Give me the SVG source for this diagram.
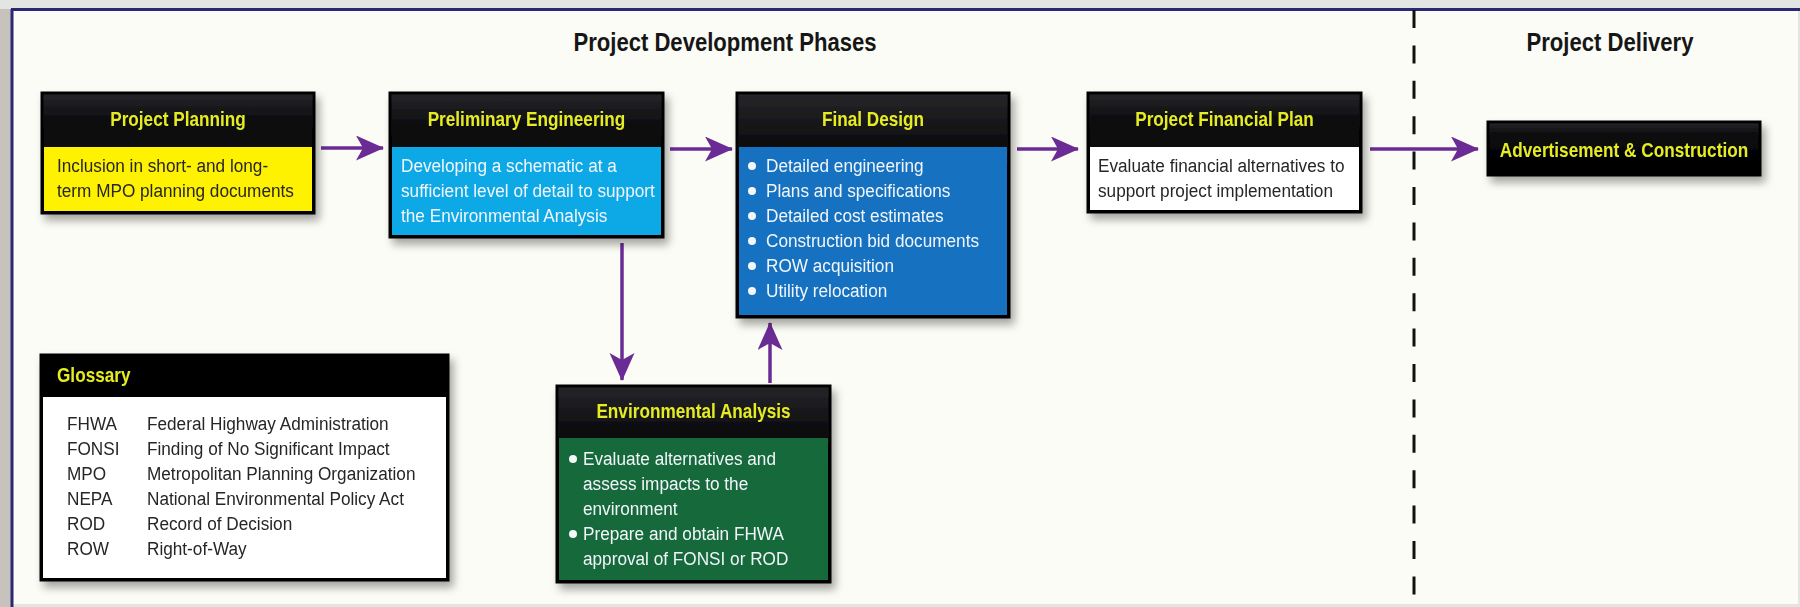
<svg xmlns="http://www.w3.org/2000/svg" width="1800" height="607" viewBox="0 0 1800 607">
<defs>
<style>
.hd{font-family:'Liberation Sans',Arial,sans-serif;font-weight:bold;font-size:20px;fill:#e6ec22;text-anchor:middle}
.ttl{font-family:'Liberation Sans',Arial,sans-serif;font-weight:bold;font-size:26px;fill:#161616;text-anchor:middle}
.b{font-family:'Liberation Sans',Arial,sans-serif;font-size:19px}
.dk{fill:#262626}
.wh{fill:#f2f6fa}
.frame{fill:url(#hg);stroke:#050505;stroke-width:3}
.con{stroke:#6a2c94;stroke-width:3.5;fill:none;marker-end:url(#ah)}
.dot{fill:#f4f6f8}
</style>
<linearGradient id="hg" x1="0" y1="0" x2="0" y2="1">
<stop offset="0" stop-color="#26262a"/>
<stop offset="0.25" stop-color="#0a0a0c"/>
<stop offset="1" stop-color="#000"/>
</linearGradient>
<filter id="sh" x="-10%" y="-10%" width="130%" height="140%">
<feDropShadow dx="4" dy="6" stdDeviation="4" flood-color="#000" flood-opacity="0.35"/>
</filter>
<marker id="ah" markerUnits="userSpaceOnUse" markerWidth="30" markerHeight="26" refX="27" refY="12.5" orient="auto">
<path d="M0,0 L28,12.5 L0,25 L7,12.5 Z" fill="#6a2c94"/>
</marker>
</defs>

<g id="background">
<rect x="0" y="0" width="1800" height="607" fill="#e3e5e3"/>
<rect x="0" y="9" width="11" height="598" fill="#c8c2bc"/>
<rect x="12" y="9" width="1786" height="595" fill="#fcfcf6"/>
<line x1="11" y1="9.5" x2="1800" y2="9.5" stroke="#2a2874" stroke-width="3"/>
<line x1="12" y1="9" x2="12" y2="607" stroke="#2a2874" stroke-width="3"/>
<line x1="1414" y1="10" x2="1414" y2="604" stroke="#111" stroke-width="3" stroke-dasharray="18 17.4"/>
</g>

<g id="titles">
<text class="ttl" transform="translate(725,51) scale(0.85,1)">Project Development Phases</text>
<text class="ttl" transform="translate(1610,51) scale(0.85,1)">Project Delivery</text>
</g>

<g id="connectors">
<line class="con" x1="321" y1="148" x2="383" y2="148"/>
<line class="con" x1="670" y1="149" x2="732" y2="149"/>
<line class="con" x1="1017" y1="149" x2="1078" y2="149"/>
<line class="con" x1="1370" y1="149" x2="1478" y2="149"/>
<line class="con" x1="622" y1="243" x2="622" y2="380"/>
<line class="con" x1="770" y1="383" x2="770" y2="323"/>
</g>

<g id="project-planning" filter="url(#sh)">
<rect class="frame" x="42" y="93" width="272" height="120"/>
<rect x="44" y="147" width="268" height="64" fill="#fff200"/>
<text class="hd" transform="translate(178,126) scale(0.86,1)">Project Planning</text>
<g transform="translate(57,0) scale(0.905,1)">
<text class="b dk" x="0" y="172">Inclusion in short- and long-</text>
<text class="b dk" x="0" y="197">term MPO planning documents</text>
</g>
</g>

<g id="preliminary-engineering" filter="url(#sh)">
<rect class="frame" x="390" y="93" width="273" height="144"/>
<rect x="392" y="147" width="269" height="88" fill="#0fa9e6"/>
<text class="hd" transform="translate(526.5,126) scale(0.86,1)">Preliminary Engineering</text>
<g transform="translate(401,0) scale(0.905,1)">
<text class="b wh" x="0" y="172">Developing a schematic at a</text>
<text class="b wh" x="0" y="197">sufficient level of detail to support</text>
<text class="b wh" x="0" y="222">the Environmental Analysis</text>
</g>
</g>

<g id="final-design" filter="url(#sh)">
<rect class="frame" x="737" y="93" width="272" height="224"/>
<rect x="739" y="147" width="268" height="168" fill="#1572c0"/>
<text class="hd" transform="translate(873,126) scale(0.86,1)">Final Design</text>
<circle class="dot" cx="752" cy="166" r="4"/>
<circle class="dot" cx="752" cy="191" r="4"/>
<circle class="dot" cx="752" cy="216" r="4"/>
<circle class="dot" cx="752" cy="241" r="4"/>
<circle class="dot" cx="752" cy="266" r="4"/>
<circle class="dot" cx="752" cy="291" r="4"/>
<g transform="translate(766,0) scale(0.905,1)">
<text class="b wh" x="0" y="172">Detailed engineering</text>
<text class="b wh" x="0" y="197">Plans and specifications</text>
<text class="b wh" x="0" y="222">Detailed cost estimates</text>
<text class="b wh" x="0" y="247">Construction bid documents</text>
<text class="b wh" x="0" y="272">ROW acquisition</text>
<text class="b wh" x="0" y="297">Utility relocation</text>
</g>
</g>

<g id="project-financial-plan" filter="url(#sh)">
<rect class="frame" x="1088" y="93" width="273" height="119"/>
<rect x="1090" y="147" width="269" height="63" fill="#ffffff"/>
<text class="hd" transform="translate(1224.5,126) scale(0.86,1)">Project Financial Plan</text>
<g transform="translate(1098,0) scale(0.905,1)">
<text class="b dk" x="0" y="172">Evaluate financial alternatives to</text>
<text class="b dk" x="0" y="197">support project implementation</text>
</g>
</g>

<g id="advertisement-construction" filter="url(#sh)">
<rect class="frame" x="1488" y="122" width="272" height="53"/>
<text class="hd" transform="translate(1624,157) scale(0.86,1)">Advertisement &amp; Construction</text>
</g>

<g id="environmental-analysis" filter="url(#sh)">
<rect class="frame" x="557" y="386" width="273" height="196"/>
<rect x="559" y="438" width="269" height="142" fill="#15693a"/>
<text class="hd" transform="translate(693.5,418) scale(0.86,1)">Environmental Analysis</text>
<circle class="dot" cx="573" cy="459" r="4"/>
<circle class="dot" cx="573" cy="534" r="4"/>
<g transform="translate(583,0) scale(0.905,1)">
<text class="b wh" x="0" y="465">Evaluate alternatives and</text>
<text class="b wh" x="0" y="490">assess impacts to the</text>
<text class="b wh" x="0" y="515">environment</text>
<text class="b wh" x="0" y="540">Prepare and obtain FHWA</text>
<text class="b wh" x="0" y="565">approval of FONSI or ROD</text>
</g>
</g>

<g id="glossary" filter="url(#sh)">
<rect x="41" y="355" width="407" height="225" fill="#000" stroke="#050505" stroke-width="3"/>
<rect x="43" y="397" width="403" height="181" fill="#ffffff"/>
<text class="hd" style="text-anchor:start" transform="translate(57,382) scale(0.86,1)">Glossary</text>
<g transform="translate(67,0) scale(0.905,1)">
<text class="b dk" x="0" y="430">FHWA</text>
<text class="b dk" x="0" y="455">FONSI</text>
<text class="b dk" x="0" y="480">MPO</text>
<text class="b dk" x="0" y="505">NEPA</text>
<text class="b dk" x="0" y="530">ROD</text>
<text class="b dk" x="0" y="555">ROW</text>
</g>
<g transform="translate(147,0) scale(0.905,1)">
<text class="b dk" x="0" y="430">Federal Highway Administration</text>
<text class="b dk" x="0" y="455">Finding of No Significant Impact</text>
<text class="b dk" x="0" y="480">Metropolitan Planning Organization</text>
<text class="b dk" x="0" y="505">National Environmental Policy Act</text>
<text class="b dk" x="0" y="530">Record of Decision</text>
<text class="b dk" x="0" y="555">Right-of-Way</text>
</g>
</g>
</svg>
